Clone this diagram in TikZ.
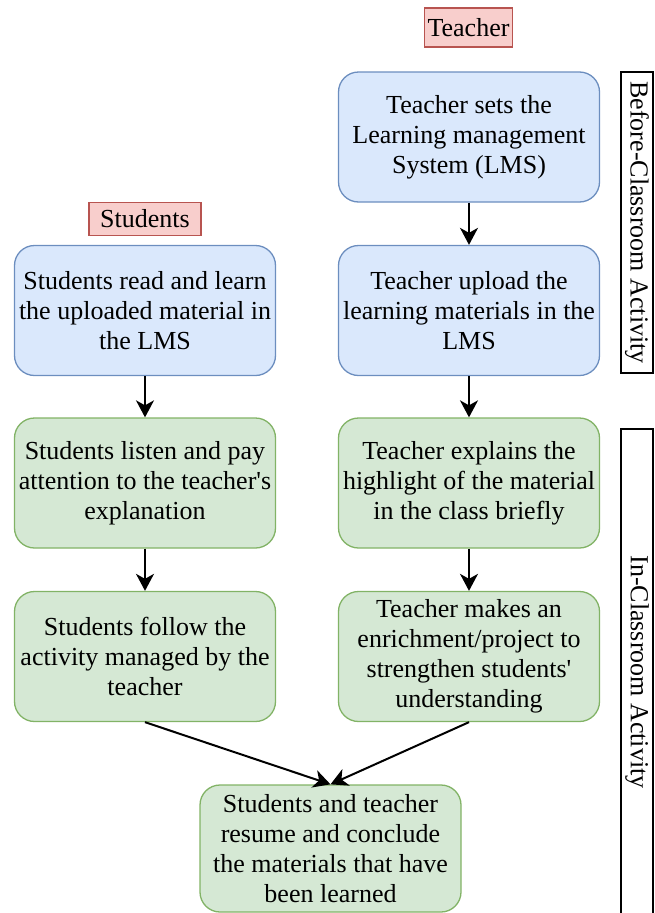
\documentclass[tikz,border=0pt]{standalone}
\usepackage{fontspec}
\setmainfont{LiberationSerif-Regular.ttf}
\newfontfamily\aposfont{LiberationSerif-Regular.ttf}
\newcommand\apos{{\aposfont'}}
\usetikzlibrary{arrows.meta}

\definecolor{bluefill}{HTML}{DAE8FC}
\definecolor{blueline}{HTML}{6C8EBF}
\definecolor{greenfill}{HTML}{D5E8D4}
\definecolor{greenline}{HTML}{82B366}
\definecolor{redfill}{HTML}{F8CECC}
\definecolor{redline}{HTML}{B85450}

\begin{document}
\begin{tikzpicture}[x=1pt,y=-1pt]

        \useasboundingbox (0,0) rectangle (654,913);

        \begin{scope}[every node/.style={rectangle,rounded corners=20pt,draw,line width=1.3pt,
            align=center,minimum width=261pt,minimum height=130pt,inner sep=0pt,
            font=\fontsize{26}{30}\selectfont}]
          \node[fill=bluefill,draw=blueline]   (t1) at (469,137)   {Teacher sets the\\Learning management\\System (LMS)};
          \node[fill=bluefill,draw=blueline]   (t2) at (469,310.5) {Teacher upload the\\learning materials in the\\LMS};
          \node[fill=greenfill,draw=greenline] (t3) at (469,483)   {Teacher explains the\\highlight of the material\\in the class briefly};
          \node[fill=greenfill,draw=greenline] (t4) at (469,656.5) {Teacher makes an\\enrichment/project to\\strengthen students\apos\\understanding};
          \node[fill=bluefill,draw=blueline]   (s1) at (145,310.5) {Students read and learn\\the uploaded material in\\the LMS};
          \node[fill=greenfill,draw=greenline] (s2) at (145,483)   {Students listen and pay\\attention to the teacher\apos s\\explanation};
          \node[fill=greenfill,draw=greenline] (s3) at (145,656.5) {Students follow the\\activity managed by the\\teacher};
          \node[fill=greenfill,draw=greenline,minimum height=127pt] (end) at (330.5,848.5) {Students and teacher\\resume and conclude\\the materials that have\\been learned};
        \end{scope}

        \begin{scope}[every node/.style={rectangle,draw=redline,fill=redfill,line width=1.3pt,
            inner sep=0pt,font=\fontsize{26}{30}\selectfont}]
          \node[minimum width=88pt,minimum height=39pt]  (teacher)  at (468.5,27.5) {Teacher};
          \node[minimum width=112pt,minimum height=33pt] (students) at (145,219)    {Students};
        \end{scope}

        \begin{scope}[every node/.style={rectangle,draw,line width=1.6pt,rotate=-90,
            minimum height=32pt,inner sep=0pt,font=\fontsize{26}{30}\selectfont}]
          \node[minimum width=301pt] (before) at (637,222.5) {Before-Classroom Activity};
          \node[minimum width=486pt] (inclass) at (637,672)  {In-Classroom Activity};
        \end{scope}

        \begin{scope}[every edge/.style={draw,line width=2pt,-{Stealth[length=17pt,width=18pt,inset=5pt]}}]
          \path (t1) edge (t2);
          \path (t2) edge (t3);
          \path (t3) edge (t4);
          \path (s1) edge (s2);
          \path (s2) edge (s3);
          \path (s3.south) edge (end.north);
          \path (t4.south) edge (end.north);
        \end{scope}

      \end{tikzpicture}
\end{document}
